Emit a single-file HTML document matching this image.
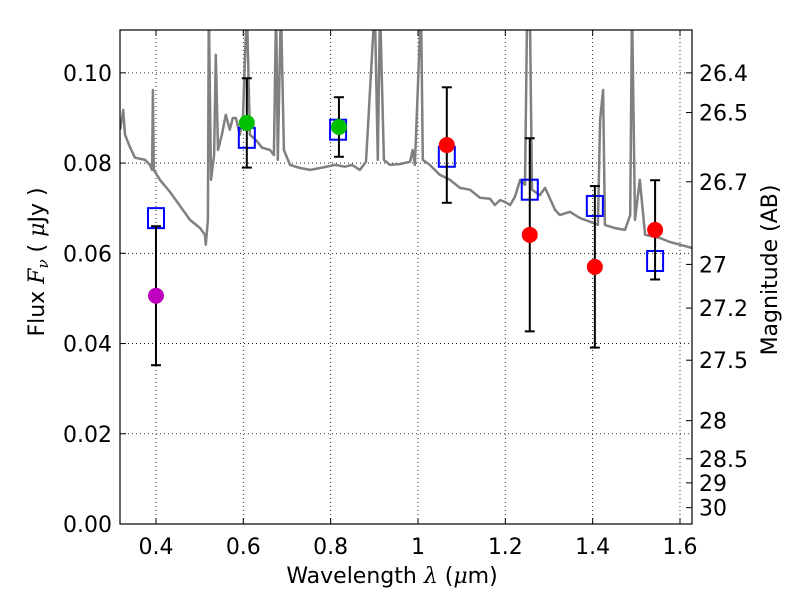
<!DOCTYPE html>
<html><head><meta charset="utf-8"><style>
body{margin:0;background:#fff;}
svg text{font-family:"DejaVu Sans","Liberation Sans",sans-serif;}
</style></head><body>
<svg id="chart" width="800" height="600" xmlns="http://www.w3.org/2000/svg"></svg>
<script>
const specLam=[0.318,0.325,0.329,0.340,0.352,0.375,0.386,0.391,0.393,0.395,0.409,0.432,0.455,0.478,0.501,0.512,0.514,0.519,0.521,0.526,0.533,0.537,0.542,0.551,0.560,0.569,0.576,0.583,0.592,0.599,0.608,0.615,0.629,0.643,0.661,0.670,0.675,0.679,0.686,0.693,0.707,0.730,0.753,0.776,0.810,0.833,0.849,0.867,0.881,0.901,0.908,0.913,0.922,0.936,0.959,0.982,0.988,0.993,1.007,1.011,1.027,1.050,1.073,1.096,1.119,1.142,1.165,1.176,1.188,1.199,1.211,1.222,1.234,1.245,1.250,1.256,1.261,1.279,1.291,1.314,1.325,1.348,1.371,1.394,1.412,1.417,1.424,1.428,1.451,1.474,1.486,1.490,1.497,1.508,1.520,1.554,1.577,1.600,1.627];
const specFlux=[0.0874,0.0918,0.0863,0.0836,0.0812,0.0807,0.0796,0.0785,0.0962,0.0785,0.0763,0.0736,0.0705,0.0674,0.0656,0.0641,0.0619,0.0674,0.115,0.0763,0.0818,0.104,0.0829,0.0863,0.0907,0.0874,0.0900,0.0900,0.0863,0.0896,0.115,0.0863,0.0851,0.0834,0.0829,0.0818,0.115,0.0807,0.115,0.0829,0.0796,0.0789,0.0785,0.0789,0.0796,0.0792,0.0796,0.0785,0.0803,0.115,0.0807,0.115,0.0807,0.0796,0.0798,0.0803,0.0829,0.0796,0.115,0.0807,0.0796,0.0774,0.0763,0.0745,0.0741,0.0723,0.0721,0.0707,0.0718,0.0714,0.0707,0.0725,0.0763,0.0752,0.115,0.115,0.0741,0.0729,0.0745,0.0696,0.0685,0.0692,0.0678,0.0670,0.0663,0.0896,0.0962,0.0663,0.0656,0.0652,0.0685,0.115,0.0674,0.0763,0.0641,0.0634,0.0625,0.0619,0.0612];
const photLam=[0.400,0.608,0.819,1.066,1.256,1.405,1.543];
const photFlux=[0.0506,0.0889,0.0880,0.0840,0.0641,0.0570,0.0652];
const photErr=[0.0154,0.0099,0.0066,0.0128,0.0214,0.0179,0.0110];
const photColor=["#bf00bf","#00c000","#00c000","#ff0000","#ff0000","#ff0000","#ff0000"];
const modelLam=[0.400,0.608,0.817,1.066,1.256,1.405,1.543];
const modelFlux=[0.0678,0.0856,0.0874,0.0814,0.0741,0.0705,0.0583];
const xTicks=[0.4,0.6,0.8,1.0,1.2,1.4,1.6];
const xTickLabels=["0.4","0.6","0.8","1","1.2","1.4","1.6"];
const yTicks=[0,0.02,0.04,0.06,0.08,0.10];
const yTickLabels=["0.00","0.02","0.04","0.06","0.08","0.10"];
const magTicks=[26.4,26.5,26.7,27,27.2,27.5,28,28.5,29,30];
const magTickLabels=["26.4","26.5","26.7","27","27.2","27.5","28","28.5","29","30"];

const L=120,R=692,T=30,B=524,XMIN=0.3176,XMAX=1.6275,YMIN=0,YMAX=0.1095;
const sx=v=>L+(v-XMIN)/(XMAX-XMIN)*(R-L);
const sy=v=>B-(v-YMIN)/(YMAX-YMIN)*(B-T);
const NS="http://www.w3.org/2000/svg";
const svg=document.getElementById('chart');
function mk(tag,attrs,parent){const e=document.createElementNS(NS,tag);for(const k in attrs)e.setAttribute(k,attrs[k]);(parent||svg).appendChild(e);return e;}
const defs=mk('defs',{});const cp=mk('clipPath',{id:'clip'},defs);mk('rect',{x:L,y:T,width:R-L,height:B-T},cp);

const grid=mk('g',{});


xTicks.forEach(v=>{mk('line',{x1:sx(v),x2:sx(v),y1:T,y2:B,stroke:'#000','stroke-width':0.8,'stroke-dasharray':'1,3'},grid);});
yTicks.forEach(v=>{mk('line',{x1:L,x2:R,y1:sy(v),y2:sy(v),stroke:'#000','stroke-width':0.8,'stroke-dasharray':'1,3'},grid);});

const pts=specLam.map((l,i)=>sx(l).toFixed(1)+','+sy(specFlux[i]).toFixed(1)).join(' ');
const spec=mk('polyline',{points:pts,fill:'none',stroke:'#808080','stroke-width':2.5,'clip-path':'url(#clip)','stroke-linejoin':'round'});



modelLam.forEach((l,i)=>{
 const r=mk('rect',{x:sx(l)-8,y:sy(modelFlux[i])-10,width:16,height:20,fill:'none',stroke:'#0000ff','stroke-width':2});
 
 
});
photLam.forEach((l,i)=>{
 const g=mk('g',{});
 
 
 const x=sx(l),y1=sy(photFlux[i]+photErr[i]),y2=sy(photFlux[i]-photErr[i]);
 mk('line',{x1:x,x2:x,y1:y1,y2:y2,stroke:'#000','stroke-width':2},g);
 mk('line',{x1:x-5,x2:x+5,y1:y1,y2:y1,stroke:'#000','stroke-width':2},g);
 mk('line',{x1:x-5,x2:x+5,y1:y2,y2:y2,stroke:'#000','stroke-width':2},g);
 mk('circle',{cx:x,cy:sy(photFlux[i]),r:8,fill:photColor[i]},g);
});

const fr=mk('rect',{x:L,y:T,width:R-L,height:B-T,fill:'none',stroke:'#000','stroke-width':1.2});



xTicks.forEach((v,i)=>{
 mk('line',{x1:sx(v),x2:sx(v),y1:B,y2:B-6,stroke:'#000'});
 mk('line',{x1:sx(v),x2:sx(v),y1:T,y2:T+6,stroke:'#000'});
 const t=mk('text',{x:sx(v),y:B+30,'font-size':22,'text-anchor':'middle'});t.textContent=xTickLabels[i];
 
 
});
yTicks.forEach((v,i)=>{
 mk('line',{x1:L,x2:L+6,y1:sy(v),y2:sy(v),stroke:'#000'});
 const t=mk('text',{x:L-8,y:sy(v)+8,'font-size':22,'text-anchor':'end'});t.textContent=yTickLabels[i];
 
 
});
magTicks.forEach((m,i)=>{
 const f=Math.pow(10,(23.9-m)/2.5);const y=sy(f);
 mk('line',{x1:R,x2:R-6,y1:y,y2:y,stroke:'#000'});
 const t=mk('text',{x:R+7,y:y+8,'font-size':22});t.textContent=magTickLabels[i];
 
 
});

const xt=mk('text',{x:392,y:583,'font-size':22,'text-anchor':'middle','xml:space':'preserve'});
xt.innerHTML='Wavelength  <tspan font-style="italic" font-family="DejaVu Serif,serif">λ</tspan> (<tspan font-style="italic" font-family="DejaVu Serif,serif">μ</tspan>m)';


const yt=mk('text',{x:0,y:0,'font-size':22,'text-anchor':'middle','xml:space':'preserve',transform:'translate(44,262) rotate(-90)'});
yt.innerHTML='Flux  <tspan font-style="italic" font-family="DejaVu Serif,serif">F</tspan><tspan font-style="italic" font-size="15" dy="4" font-family="DejaVu Serif,serif">ν</tspan><tspan dy="-4">  (  </tspan><tspan font-style="italic" font-family="DejaVu Serif,serif">μ</tspan>Jy )';


const rt=mk('text',{x:0,y:0,'font-size':22,'text-anchor':'middle',transform:'translate(777,270) rotate(-90)'});
rt.textContent='Magnitude (AB)';


</script>
</body></html>
